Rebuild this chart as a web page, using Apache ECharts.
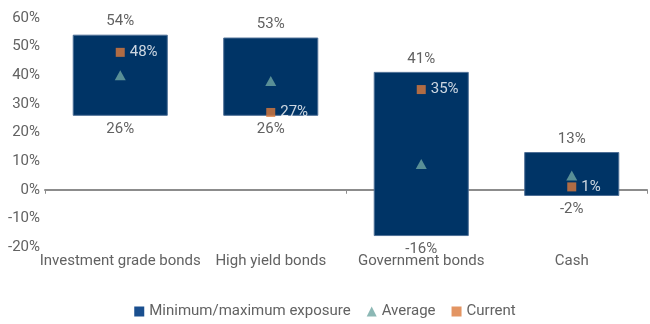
<!DOCTYPE html>
<html><head><meta charset="utf-8">
<script src="https://cdn.jsdelivr.net/npm/echarts@6/dist/echarts.min.js"></script>
<style>html,body{margin:0;padding:0;background:#fff}#c{width:650px;height:324px}</style>
</head><body><div id="c"></div>
<script>
const categories = ['Investment grade bonds', 'High yield bonds', 'Government bonds', 'Cash'];
const minExposure = [26, 26, -16, -2];
const maxExposure = [54, 53, 41, 13];
const averageValues = [40, 38, 9, 5];
const currentValues = [48, 27, 35, 1];
const yTicks = [-20, -10, 0, 10, 20, 30, 40, 50, 60];

const textColor = '#626262';
const font = 'Roboto';
const chart = echarts.init(document.getElementById('c'), null, {renderer: 'canvas'});
const rangeData = categories.map((c, i) => [i, minExposure[i], maxExposure[i]]);

chart.setOption({
  animation: false,
  textStyle: {fontFamily: font},
  grid: {left: 45, right: 3, top: 18, bottom: 77},
  legend: {
    bottom: 0, left: 'center', itemWidth: 10, itemHeight: 10, itemGap: 16,
    textStyle: {color: textColor, fontSize: 15, fontFamily: font},
    data: [
      {name: 'Minimum/maximum exposure', icon: 'rect', itemStyle: {color: '#1a4f8f'}},
      {name: 'Average', icon: 'triangle'},
      {name: 'Current', icon: 'rect'}
    ]
  },
  xAxis: [{
    type: 'category', data: categories,
    axisLine: {onZero: true, lineStyle: {color: '#8c8c8c', width: 2}},
    axisTick: {show: true, lineStyle: {color: '#8c8c8c'}, length: 4},
    axisLabel: {show: false}
  }, {
    type: 'category', data: categories, position: 'bottom',
    axisLine: {show: false, onZero: false}, axisTick: {show: false},
    axisLabel: {color: textColor, fontSize: 15, margin: 7, interval: 0, fontFamily: font}
  }],
  yAxis: {
    type: 'value', min: yTicks[0], max: yTicks[yTicks.length - 1], interval: 10,
    axisLine: {show: false}, axisTick: {show: false}, splitLine: {show: false},
    axisLabel: {color: textColor, fontSize: 15, margin: 5, formatter: v => v + '%', fontFamily: font}
  },
  series: [{
    name: 'Minimum/maximum exposure', type: 'custom', xAxisIndex: 0,
    itemStyle: {color: '#1a4f8f'},
    data: rangeData,
    encode: {x: 0, y: [1, 2]},
    renderItem: function (params, api) {
      const i = api.value(0);
      const lo = api.coord([i, api.value(1)]);
      const hi = api.coord([i, api.value(2)]);
      const w = api.size([1, 0])[0] * 0.625;
      return {
        type: 'group', children: [
          {type: 'rect', shape: {x: lo[0] - w / 2, y: hi[1], width: w, height: lo[1] - hi[1]},
           style: {fill: '#003466', stroke: '#4d6f96', lineWidth: 1}},
          {type: 'text', style: {text: api.value(2) + '%', x: hi[0], y: hi[1] - 6, align: 'center', verticalAlign: 'bottom',
            fill: textColor, fontSize: 15, fontFamily: font}},
          {type: 'text', style: {text: api.value(1) + '%', x: lo[0], y: lo[1] + 6, align: 'center', verticalAlign: 'top',
            fill: textColor, fontSize: 15, fontFamily: font}}
        ]
      };
    },
    z: 1
  }, {
    name: 'Average', type: 'scatter', xAxisIndex: 0, symbol: 'triangle', symbolSize: [11, 10],
    itemStyle: {color: '#6fa6a3'}, data: averageValues, z: 3
  }, {
    name: 'Current', type: 'scatter', xAxisIndex: 0, symbol: 'rect', symbolSize: 9,
    itemStyle: {color: '#dc7a3c'}, data: currentValues, z: 4,
    label: {show: true, position: 'right', distance: 5, color: '#ffffff', fontSize: 15, fontFamily: font, formatter: p => p.value + '%'}
  }]
});
</script></body></html>
